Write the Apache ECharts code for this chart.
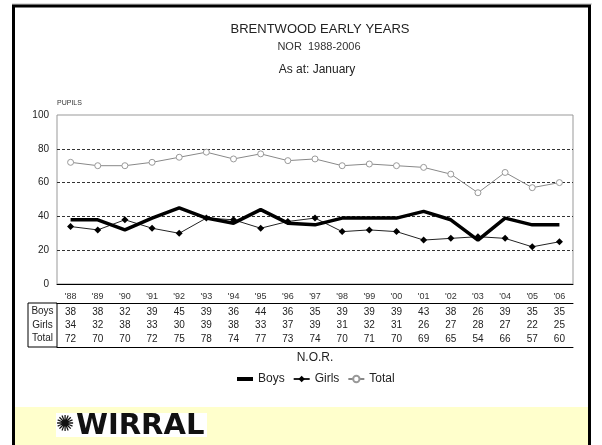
<!DOCTYPE html>
<html>
<head>
<meta charset="utf-8">
<script src="https://cdn.jsdelivr.net/npm/echarts@6/dist/echarts.min.js"></script>
<style>
  html, body { margin: 0; padding: 0; background: #fff; }
  #chart { width: 602px; height: 445px; }
</style>
</head>
<body>
<div id="chart"></div>
<script>
// ========== data ==========
const years = ["'88", "'89", "'90", "'91", "'92", "'93", "'94", "'95", "'96", "'97",
               "'98", "'99", "'00", "'01", "'02", "'03", "'04", "'05", "'06"];
const boys  = [38, 38, 32, 39, 45, 39, 36, 44, 36, 35, 39, 39, 39, 43, 38, 26, 39, 35, 35];
const girls = [34, 32, 38, 33, 30, 39, 38, 33, 37, 39, 31, 32, 31, 26, 27, 28, 27, 22, 25];
const total = [72, 70, 70, 72, 75, 78, 74, 77, 73, 74, 70, 71, 70, 69, 65, 54, 66, 57, 60];
const rowNames = ['Boys', 'Girls', 'Total'];

// ========== layout ==========
const FONT = '"Liberation Sans", Arial, sans-serif';
const G = { left: 57, right: 29, top: 115, bottom: 161 };
const axisY = 445 - G.bottom;      // 284
const headH = 19, bodyH = 44;
const midX = (G.left + 602 - G.right) / 2;

const chart = echarts.init(document.getElementById('chart'));

chart.setOption({
  animation: false,
  textStyle: { fontFamily: FONT },
  grid: Object.assign({ show: true, borderColor: '#999', borderWidth: 1 }, G),
  legend: {
    data: [
      { name: 'Boys', icon: 'path://M0,0h16v4h-16z', itemStyle: { color: '#000' } },
      { name: 'Girls' },
      { name: 'Total' }
    ],
    left: 232, top: 368,
    itemWidth: 16, itemHeight: 8, itemGap: 8,
    textStyle: { fontSize: 12, color: '#222', fontFamily: FONT }
  },
  xAxis: [
    {
      type: 'category', data: years, position: 'bottom',
      axisLine: { lineStyle: { color: '#000', width: 1 } },
      axisTick: { inside: true, length: 8, alignWithLabel: true, lineStyle: { color: '#333' } },
      axisLabel: { interval: 0, margin: 8, fontSize: 9, color: '#333' }
    },
    {
      type: 'category', data: years, position: 'bottom', offset: headH,
      axisLine: { lineStyle: { color: '#000', width: 1 } },
      axisTick: { inside: true, length: headH, interval: 0, lineStyle: { color: '#333' } },
      axisLabel: {
        interval: 0, margin: 2, fontSize: 10, lineHeight: 13.5, color: '#222',
        formatter: (v, i) => boys[i] + '\n' + girls[i] + '\n' + total[i]
      }
    },
    {
      type: 'category', data: years, position: 'bottom', offset: headH + bodyH,
      axisLine: { lineStyle: { color: '#000', width: 1 } },
      axisTick: { inside: true, length: bodyH, interval: 0, lineStyle: { color: '#333' } },
      axisLabel: { show: false }
    }
  ],
  yAxis: {
    type: 'value', min: 0, max: 100, interval: 20,
    name: 'PUPILS', nameLocation: 'end', nameGap: 8,
    nameTextStyle: { align: 'left', fontSize: 7, color: '#333' },
    axisLine: { show: false },
    axisTick: { show: false },
    axisLabel: { fontSize: 10, color: '#222', margin: 8 },
    splitLine: {
      lineStyle: {
        color: ['transparent', '#333', '#333', '#333', '#333', 'transparent'],
        type: [3, 2], width: 1
      }
    }
  },
  series: [
    {
      name: 'Boys', type: 'line', data: boys, symbol: 'none',
      color: '#000', lineStyle: { width: 3.5, color: '#000', type: 'solid' }, z: 4
    },
    {
      name: 'Girls', type: 'line', data: girls, symbol: 'diamond', symbolSize: 7,
      color: '#111', lineStyle: { width: 1, color: '#222', type: 'solid' },
      itemStyle: { color: '#000' }, z: 3
    },
    {
      name: 'Total', type: 'line', data: total, symbol: 'circle', symbolSize: 6,
      color: '#888', lineStyle: { width: 1, color: '#888', type: 'solid' },
      itemStyle: { color: '#fff', borderColor: '#999', borderWidth: 1, borderType: 'solid' }, z: 2
    }
  ],
  graphic: [
    // page frame
    { type: 'line', shape: { x1: 12, y1: 4, x2: 592, y2: 4 }, style: { stroke: '#bbb', lineWidth: 1 } },
    { type: 'rect', shape: { x: 13.5, y: 6, width: 576, height: 460 }, style: { fill: null, stroke: '#000', lineWidth: 3 } },
    // yellow footer
    { type: 'rect', shape: { x: 15, y: 407, width: 573, height: 40 }, style: { fill: '#ffffcc' } },
    { type: 'rect', shape: { x: 56, y: 413, width: 151, height: 24 }, style: { fill: '#fff' } },
    { type: 'text', x: 56, y: 425, style: { text: '✺', font: 'bold 22px "DejaVu Sans"', fill: '#111', verticalAlign: 'middle' } },
    { type: 'text', x: 76, y: 426, style: { text: 'WIRRAL', font: 'bold 29px "DejaVu Sans"', fill: '#111', verticalAlign: 'middle' } },
    // titles
    { type: 'text', x: 320, y: 29, style: { text: 'BRENTWOOD EARLY YEARS', font: '13px ' + FONT, fill: '#222', align: 'center', verticalAlign: 'middle' } },
    { type: 'text', x: 319, y: 47, style: { text: 'NOR  1988-2006', font: '11px ' + FONT, fill: '#333', align: 'center', verticalAlign: 'middle' } },
    { type: 'text', x: 317, y: 70, style: { text: 'As at: January', font: '12px ' + FONT, fill: '#222', align: 'center', verticalAlign: 'middle' } },
    { type: 'text', x: midX, y: 358, style: { text: 'N.O.R.', font: '12px ' + FONT, fill: '#222', align: 'center', verticalAlign: 'middle' } },
    // table row labels
    { type: 'rect', shape: { x: 28, y: axisY + headH, width: G.left - 28, height: bodyH }, style: { fill: null, stroke: '#000', lineWidth: 1 } }
  ].concat(rowNames.map((n, i) => ({
    type: 'text', x: (28 + G.left) / 2, y: axisY + headH + 8.7 + i * 13.5,
    style: { text: n, font: '10px ' + FONT, fill: '#222', align: 'center', verticalAlign: 'middle' }
  })))
});
</script>
</body>
</html>
